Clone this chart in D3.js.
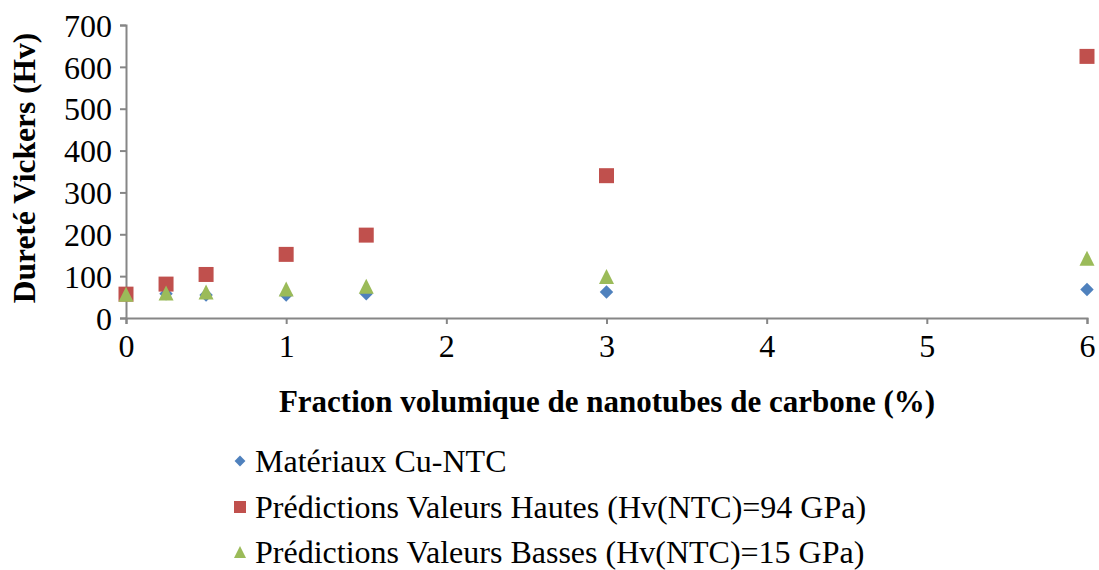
<!DOCTYPE html>
<html><head><meta charset="utf-8">
<script src="https://cdn.jsdelivr.net/npm/d3@7"></script>
<style>body{margin:0;background:#fff}svg text{font-family:"Liberation Serif","Times New Roman",serif}</style>
</head><body><svg id="c" width="1099" height="570"></svg>
<script>
const xVals = [0, 0.25, 0.5, 1, 1.5, 3, 6];
const seriesNames = ["Matériaux Cu-NTC", "Prédictions Valeurs Hautes (Hv(NTC)=94 GPa)", "Prédictions Valeurs Basses (Hv(NTC)=15 GPa)"];
const cuNtc = [57, 58, 55, 55, 58, 62, 68];
const hautes = [57, 81, 104, 152, 198, 340, 625];
const basses = [57, 60, 62, 69, 76, 99, 143];
const xTicks = [0, 1, 2, 3, 4, 5, 6];
const yTicks = [0, 100, 200, 300, 400, 500, 600, 700];
const colors = ["#4F81BD", "#C0504D", "#9BBB59"];

// bbox-centred triangle, width = height = sqrt(size)
const symbolTri = { draw(ctx, size) { const s = Math.sqrt(size) / 2;
  ctx.moveTo(0, -s); ctx.lineTo(s, s); ctx.lineTo(-s, s); ctx.closePath(); } };
const shapes = [d3.symbolDiamond2 || d3.symbolDiamond, d3.symbolSquare, symbolTri];

const svg = d3.select("#c");
const x = d3.scaleLinear().domain([0, 6]).range([126, 1087]);
const y = d3.scaleLinear().domain([0, 700]).range([318, 25]);
const axisColor = "#868686";
const FF = "'Liberation Serif','Times New Roman',serif";

const gy = svg.append("g").attr("transform", "translate(126,0)")
  .call(d3.axisLeft(y).tickValues(yTicks).tickSize(6).tickPadding(8));
const gx = svg.append("g").attr("transform", "translate(0,318)")
  .call(d3.axisBottom(x).tickValues(xTicks).tickSize(6).tickPadding(10).tickFormat(d3.format("d")));
[gx, gy].forEach(g => {
  g.attr("font-family", FF);
  g.select(".domain").attr("stroke", axisColor).attr("stroke-width", 2);
  g.selectAll(".tick line").attr("stroke", axisColor).attr("stroke-width", 2);
  g.selectAll("text").attr("fill", "#000").style("font-size", "32px").style("font-family", FF);
});
gy.selectAll("text").attr("dy", "0.35em");

svg.append("text").attr("transform", "translate(35,168) rotate(-90)")
  .attr("text-anchor", "middle").style("font-size", "31.5px").style("font-weight", "bold")
  .text("Dureté Vickers (Hv)");
svg.append("text").attr("x", 607).attr("y", 412)
  .attr("text-anchor", "middle").style("font-size", "31px").style("font-weight", "bold")
  .text("Fraction volumique de nanotubes de carbone (%)");

const data = [cuNtc, hautes, basses];
const sizes = [115, 225, 225];
data.forEach((vals, i) => {
  svg.append("g").selectAll("path").data(vals).enter().append("path")
    .attr("transform", (d, j) => `translate(${x(xVals[j])},${y(d)})`)
    .attr("d", d3.symbol().type(shapes[i]).size(sizes[i]))
    .attr("fill", colors[i]);
});

const legY = [461, 507, 552];
const legSizes = [75, 144, 144];
seriesNames.forEach((n, i) => {
  svg.append("path").attr("transform", `translate(240,${legY[i]})`)
    .attr("d", d3.symbol().type(shapes[i]).size(legSizes[i])).attr("fill", colors[i]);
  svg.append("text").attr("x", 255).attr("y", legY[i]).attr("dy", "0.35em")
    .style("font-size", "32px").text(n);
});
</script></body></html>
